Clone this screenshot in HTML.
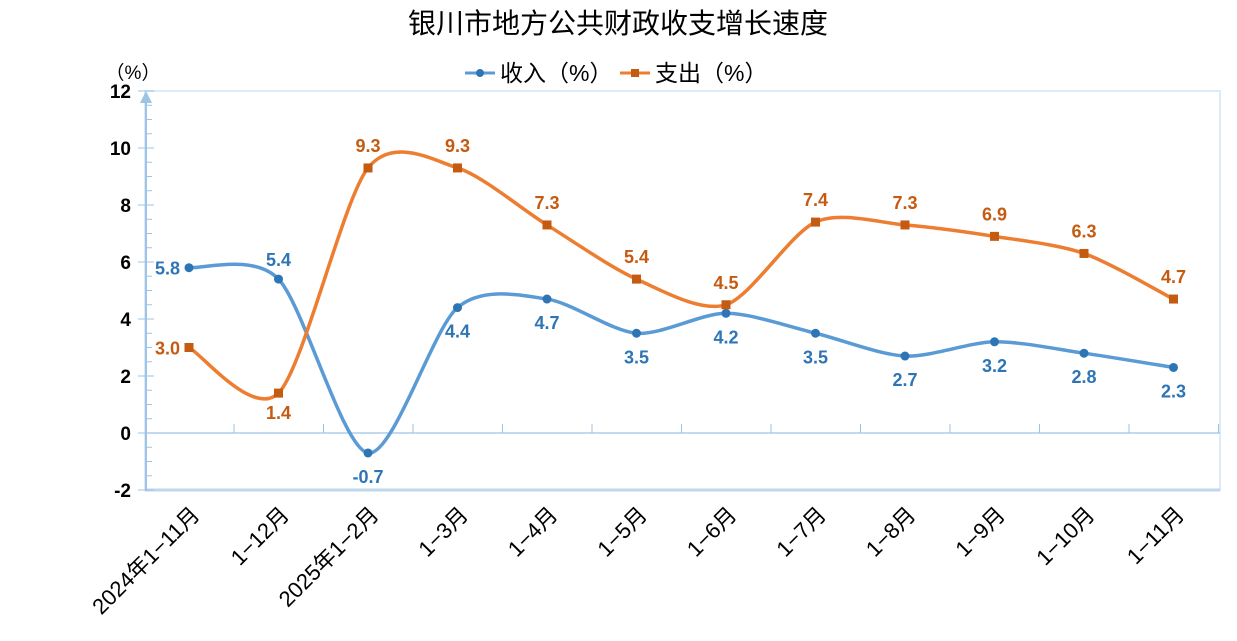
<!DOCTYPE html>
<html><head><meta charset="utf-8"><style>
body{margin:0;background:#fff}
svg{display:block;font-family:"Liberation Sans","Noto Sans CJK SC",sans-serif}
</style></head><body>
<svg id="s" width="1237" height="641" viewBox="0 0 1237 641">
<text x="618" y="33" text-anchor="middle" font-size="28" fill="#000">银川市地方公共财政收支增长速度</text>
<text x="133" y="79" text-anchor="middle" font-size="19" fill="#000">（%）</text>
<line x1="465" y1="73" x2="495" y2="73" stroke="#5b9bd5" stroke-width="3"/><circle cx="480" cy="73" r="4" fill="#2e75b6"/>
<text x="500" y="81" font-size="23" fill="#000">收入（%）</text>
<line x1="620" y1="73" x2="650" y2="73" stroke="#ed7d31" stroke-width="3"/><rect x="631" y="69" width="8" height="8" fill="#c55a11"/>
<text x="655" y="81" font-size="23" fill="#000">支出（%）</text>
<rect x="145" y="91" width="1075" height="399" fill="none" stroke="#ddebf7" stroke-width="2"/>
<line x1="145" y1="490" x2="1220" y2="490" stroke="#bdd7ee" stroke-width="3"/>
<line x1="145" y1="433" x2="1220" y2="433" stroke="#9dc3e6" stroke-width="1.2"/>
<line x1="146" y1="96" x2="146" y2="491" stroke="#9dc3e6" stroke-width="2"/>
<polygon points="146,91 140,103 152,103" fill="#9dc3e6"/>
<g id="g"></g>
</svg>
<script>
const g=document.getElementById('g');let h='';
const X=i=>189+i*89.5,Y=v=>433-v*28.5;
for(let v=-2;v<=12;v+=0.5){const y=Y(v);const maj=v%2==0;h+=`<line x1="${maj?138:146}" y1="${y}" x2="${maj?154:152}" y2="${y}" stroke="#9dc3e6" stroke-width="1"/>`;if(maj)h+=`<text x="131" y="${y+7}" text-anchor="end" font-size="19" font-weight="bold">${v}</text>`;}
for(let i=0;i<12;i++){const x=234+i*89.5;h+=`<line x1="${x}" y1="424" x2="${x}" y2="433" stroke="#9dc3e6"/>`;}
const cats=["2024年1−11月","1−12月","2025年1−2月","1−3月","1−4月","1−5月","1−6月","1−7月","1−8月","1−9月","1−10月","1−11月"];
cats.forEach((c,i)=>{const x=X(i)+12,y=516;h+=`<text transform="translate(${x},${y}) rotate(-45)" text-anchor="end" font-size="22">${c}</text>`;});
const inc=[5.8,5.4,-0.7,4.4,4.7,3.5,4.2,3.5,2.7,3.2,2.8,2.3];
const exp=[3.0,1.4,9.3,9.3,7.3,5.4,4.5,7.4,7.3,6.9,6.3,4.7];
function path(d){const p=d.map((v,i)=>[X(i),Y(v)]);let s=`M${p[0]}`;const t=0.28;for(let i=0;i<p.length-1;i++){const p0=p[i-1]||p[i],p1=p[i],p2=p[i+1],p3=p[i+2]||p2;const c1=[p1[0]+(p2[0]-p0[0])*t/2,p1[1]+(p2[1]-p0[1])*t/2],c2=[p2[0]-(p3[0]-p1[0])*t/2,p2[1]-(p3[1]-p1[1])*t/2];s+=` C${c1} ${c2} ${p2}`;}return s;}
h+=`<path d="${path(inc)}" fill="none" stroke="#5b9bd5" stroke-width="3.5"/>`;
h+=`<path d="${path(exp)}" fill="none" stroke="#ed7d31" stroke-width="3.5"/>`;
inc.forEach((v,i)=>{const x=X(i),y=Y(v);h+=`<circle cx="${x}" cy="${y}" r="4.5" fill="#2e75b6"/>`;let lx=x,ly=y+30,a='middle';if(i==0){lx=x-9;ly=y+7;a='end'}else if(i==1){ly=y-13}h+=`<text x="${lx}" y="${ly}" text-anchor="${a}" font-size="18" font-weight="bold" fill="#2e75b6">${v.toFixed(1)}</text>`;});
exp.forEach((v,i)=>{const x=X(i),y=Y(v);h+=`<rect x="${x-4.5}" y="${y-4.5}" width="9" height="9" fill="#c55a11"/>`;let lx=x,ly=y-16,a='middle';if(i==0){lx=x-9;ly=y+7;a='end'}else if(i==1){ly=y+26}h+=`<text x="${lx}" y="${ly}" text-anchor="${a}" font-size="18" font-weight="bold" fill="#c55a11">${v.toFixed(1)}</text>`;});
g.innerHTML=h;
</script>
</body></html>
